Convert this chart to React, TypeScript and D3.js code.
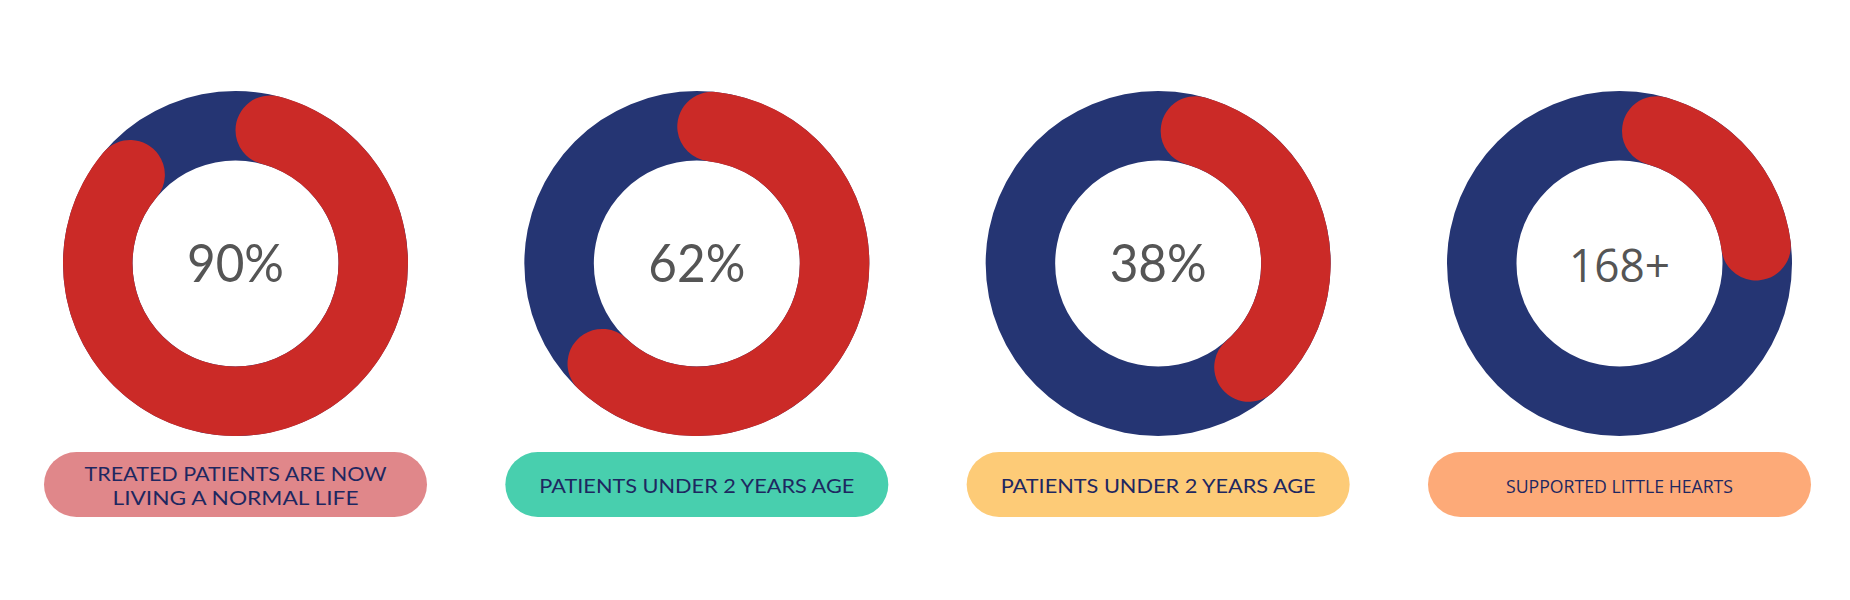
import React from "react";
import * as d3 from "d3";

const centerLabels = ["90%", "62%", "38%", "168+"];
const arcStarts = [0.0, -0.023, 0.003, 0.003];
const arcEnds = [0.902, 0.661, 0.426, 0.27];
const captions = [
  ["TREATED PATIENTS ARE NOW", "LIVING A NORMAL LIFE"],
  ["PATIENTS UNDER 2 YEARS AGE"],
  ["PATIENTS UNDER 2 YEARS AGE"],
  ["SUPPORTED LITTLE HEARTS"],
];
const pillColors = ["#e0878a", "#48cfae", "#fdcb77", "#fdaa78"];
const captionFonts = ["Lato", "Lato", "Lato", "Open Sans"];
const captionWidths = [[302, 246], [315], [315], [227]];
const centerFonts = ["Lato", "Lato", "Lato", "Open Sans"];

const W = 1850;
const H = 600;
const BLUE = "#253573";
const RED = "#cb2a27";
const NAVY = "#1e2760";

export default function App() {
  const x = d3.scalePoint<number>().domain(d3.range(4)).range([235.5, 1619.5]);
  const cy = 263.5;
  const outerR = 172.5;
  const innerR = 103;
  const angle = d3.scaleLinear().domain([0, 1]).range([0, 2 * Math.PI]);
  const ring = d3.arc<any>().innerRadius(innerR).outerRadius(outerR);
  const redArc = d3
    .arc<any>()
    .innerRadius(innerR)
    .outerRadius(outerR)
    .cornerRadius((outerR - innerR) / 2);

  const pillW = 383;
  const pillH = 65;
  const pillY = 452;

  return (
    <svg
      width={W}
      height={H}
      style={{ position: "absolute", left: 0, top: 0, background: "#fff" }}
    >
      {centerLabels.map((lab, i) => {
        const cx = x(i) as number;
        const lines = captions[i];
        return (
          <g key={i}>
            <path
              transform={`translate(${cx},${cy})`}
              d={ring({ startAngle: 0, endAngle: 2 * Math.PI }) as string}
              fill={BLUE}
            />
            <path
              transform={`translate(${cx},${cy})`}
              d={
                redArc({
                  startAngle: angle(arcStarts[i]),
                  endAngle: angle(arcEnds[i]),
                }) as string
              }
              fill={RED}
            />
            <text
              x={cx}
              y={282}
              textAnchor="middle"
              fontFamily={centerFonts[i]}
              fontWeight={400}
              fontSize={i === 3 ? 46 : 52}
              fill="#555555"
              textLength={i === 3 ? 101 : 97}
              lengthAdjust="spacingAndGlyphs"
            >
              {lab}
            </text>
            <rect
              x={cx - pillW / 2}
              y={pillY}
              width={pillW}
              height={pillH}
              rx={pillH / 2}
              fill={pillColors[i]}
            />
            {lines.map((ln, j) => (
              <text
                key={j}
                x={cx}
                y={lines.length === 2 ? 480.5 + j * 24 : 492.5}
                textAnchor="middle"
                fontFamily={captionFonts[i]}
                fontSize={i === 3 ? 19 : 20}
                fill={NAVY}
                textLength={captionWidths[i][j]}
                lengthAdjust="spacingAndGlyphs"
              >
                {ln}
              </text>
            ))}
          </g>
        );
      })}
    </svg>
  );
}
